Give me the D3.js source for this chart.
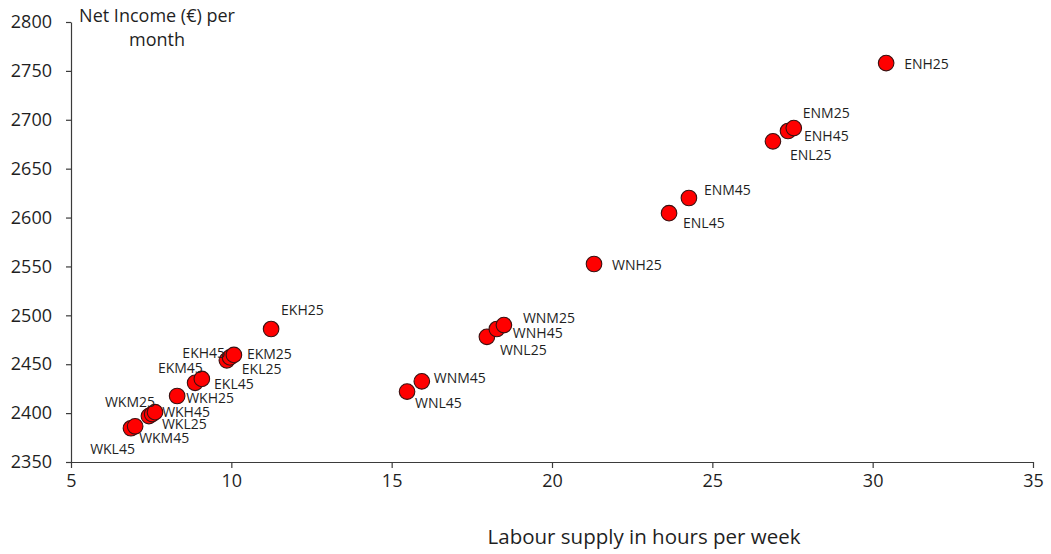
<!DOCTYPE html>
<html>
<head>
<meta charset="utf-8">
<script src="https://cdn.jsdelivr.net/npm/d3@7"></script>
<style>
html,body{margin:0;padding:0;background:#fff;}
svg{display:block;font-family:"Open Sans",sans-serif;}
</style>
</head>
<body>
<svg id="chart" width="1051" height="554"></svg>
<script>
// ---- data ----
const names  = ["ENH25","ENM25","ENH45","ENL25","ENM45","ENL45","WNH25","WNM25","WNH45","WNL25","WNM45","WNL45",
                "EKH25","EKM25","EKH45","EKL25","EKM45","EKL45","WKH25","WKM25","WKH45","WKL25","WKM45","WKL45"];
const hours  = [30.42,27.54,27.36,26.89,24.27,23.65,21.31,18.50,18.28,17.97,15.94,15.48,
                11.24,10.08,9.96,9.86,9.08,8.87,8.31,7.62,7.53,7.43,7.00,6.87];
const income = [2758,2691.5,2688.5,2678,2620,2604.5,2552.5,2490,2486,2478,2432.5,2422,
                2486,2459.5,2457,2454,2435,2431,2417.5,2401,2399,2397,2386.5,2384.5];
const xTicks = [5,10,15,20,25,30,35];
const yTicks = [2350,2400,2450,2500,2550,2600,2650,2700,2750,2800];

// ---- label layout (pixel offsets from marker) ----
const labelLayout = {
  ENH25:[18,1,"start"], ENM25:[9,-15,"start"], ENH45:[16,5,"start"], ENL25:[17,14,"start"],
  ENM45:[15,-8,"start"], ENL45:[14,10,"start"], WNH25:[18,1,"start"], WNM25:[19,-7,"start"],
  WNH45:[16,4,"start"], WNL25:[13,13,"start"], WNM45:[12,-3,"start"], WNL45:[8,11,"start"],
  EKH25:[10,-19,"start"], EKM25:[13,-1,"start"], EKH45:[-5,-4,"end"], EKL25:[15,9,"start"],
  EKM45:[1,-11,"end"], EKL45:[19,1,"start"], WKH25:[9,2,"start"], WKM25:[0,-10,"end"],
  WKH45:[10,-2,"start"], WKL25:[13,8,"start"], WKM45:[4,12,"start"], WKL45:[4,21,"end"]
};

const svg = d3.select("#chart");
const x = d3.scaleLinear().domain([5,35]).range([71,1033]);
const y = d3.scaleLinear().domain([2350,2800]).range([462,22]);

const axisColor = "#3b3b3b";
const textColor = "#1f1f1f";

// x axis
const gx = svg.append("g").attr("transform",`translate(0,${y(2350)})`)
  .call(d3.axisBottom(x).tickValues(xTicks).tickSize(6).tickSizeOuter(0).tickFormat(d3.format("d")));
gx.select(".domain").attr("stroke",axisColor).attr("stroke-width",1.2);
gx.selectAll(".tick line").attr("stroke",axisColor).attr("stroke-width",1.2);
gx.selectAll(".tick text").attr("font-size",18).attr("fill",textColor).attr("dy","0.9em")
  .attr("font-family","'Open Sans',sans-serif");

// y axis
const gy = svg.append("g").attr("transform",`translate(${x(5)},0)`)
  .call(d3.axisLeft(y).tickValues(yTicks).tickSize(5).tickSizeOuter(0).tickFormat(d3.format("d")));
gy.select(".domain").attr("stroke",axisColor).attr("stroke-width",1.2);
gy.selectAll(".tick line").attr("stroke",axisColor).attr("stroke-width",1.2);
gy.selectAll(".tick text").attr("font-size",18).attr("fill",textColor).attr("x",-19)
  .attr("font-family","'Open Sans',sans-serif");

// axis titles
svg.append("text").attr("x",157).attr("y",22).attr("text-anchor","middle")
  .attr("font-size",18).attr("fill",textColor).text("Net Income (€) per");
svg.append("text").attr("x",157).attr("y",46).attr("text-anchor","middle")
  .attr("font-size",18).attr("fill",textColor).text("month");
svg.append("text").attr("x",644).attr("y",544).attr("text-anchor","middle")
  .attr("font-size",20.5).attr("fill",textColor).text("Labour supply in hours per week");

// points
const pts = names.map((n,i)=>({name:n,h:hours[i],v:income[i]}));
const order = pts.slice().sort((a,b)=>a.h-b.h);

svg.append("g").selectAll("circle").data(order).join("circle")
  .attr("cx",d=>x(d.h)).attr("cy",d=>y(d.v)).attr("r",7.8)
  .attr("fill","#ff0000").attr("stroke","#3a1010").attr("stroke-width",1.1);

svg.append("g").selectAll("text").data(pts).join("text")
  .attr("x",d=>x(d.h)+labelLayout[d.name][0])
  .attr("y",d=>y(d.v)+labelLayout[d.name][1])
  .attr("text-anchor",d=>labelLayout[d.name][2])
  .attr("dy","0.35em").attr("font-size",14).attr("fill",textColor)
  .text(d=>d.name);
</script>
</body>
</html>
